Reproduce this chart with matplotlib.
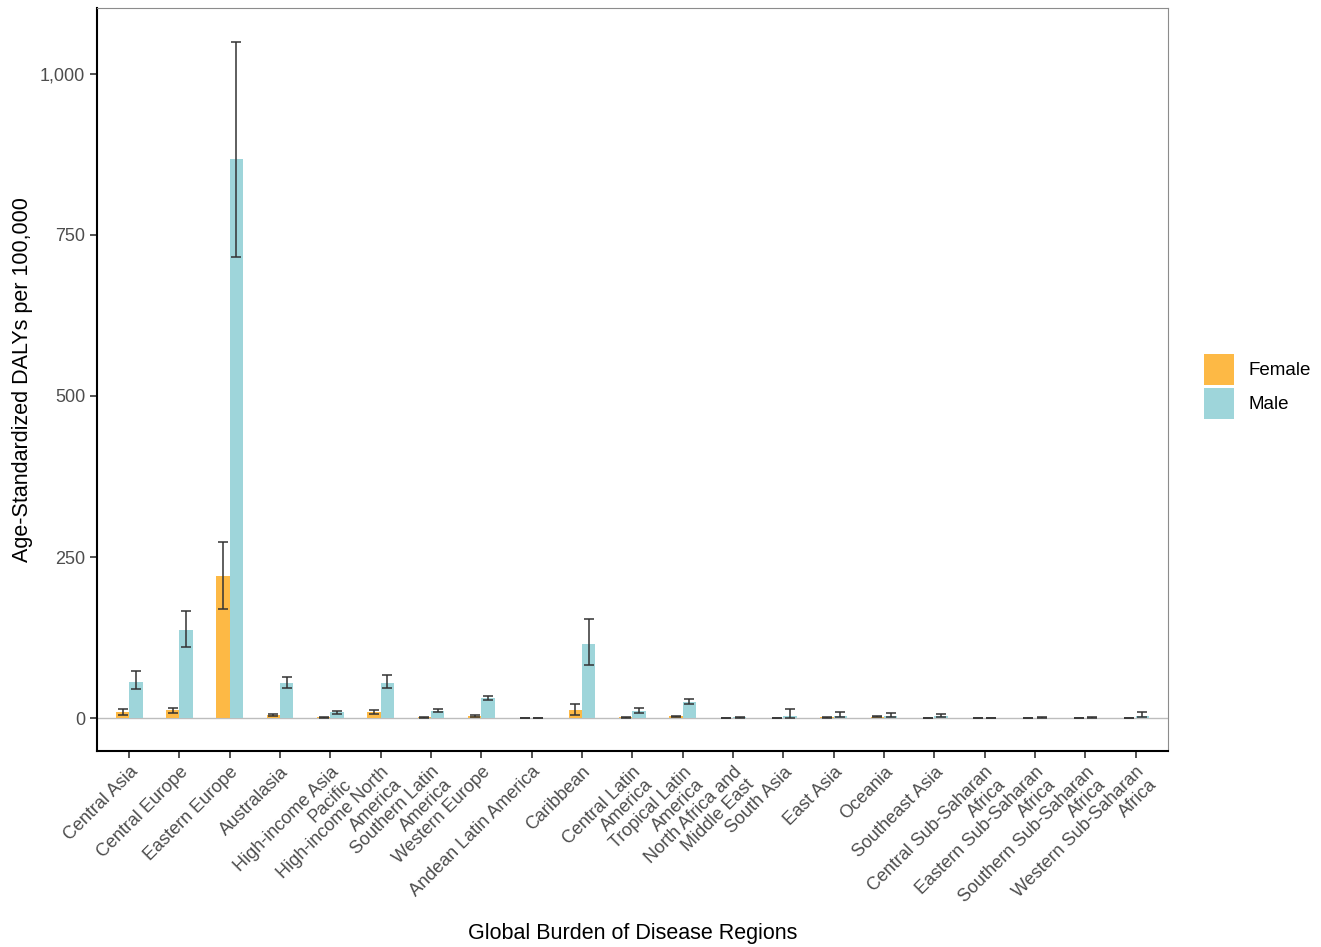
import numpy as np
import matplotlib
matplotlib.use("Agg")
import matplotlib.pyplot as plt
from matplotlib.patches import Patch
from matplotlib.ticker import FuncFormatter

plt.rcParams['font.family'] = ['Liberation Sans', 'DejaVu Sans']

regions = ["Central Asia", "Central Europe", "Eastern Europe", "Australasia",
           "High-income Asia\nPacific", "High-income North\nAmerica",
           "Southern Latin\nAmerica", "Western Europe", "Andean Latin America",
           "Caribbean", "Central Latin\nAmerica", "Tropical Latin\nAmerica",
           "North Africa and\nMiddle East", "South Asia", "East Asia", "Oceania",
           "Southeast Asia", "Central Sub-Saharan\nAfrica",
           "Eastern Sub-Saharan\nAfrica", "Southern Sub-Saharan\nAfrica",
           "Western Sub-Saharan\nAfrica"]

female = [9, 12, 220, 5, 1, 9, 1, 3, 0.5, 12, 1, 3, 0.5, 0.5, 1, 2, 0.5, 0.3, 0.3, 0.3, 0.5]
female_lo = [5, 8, 169, 4, 0.5, 7, 0.5, 2, 0.2, 5, 0.5, 2, 0.2, 0.2, 0.5, 1, 0.2, 0.1, 0.1, 0.1, 0.2]
female_hi = [14, 16, 273, 7, 1.5, 12, 1.5, 5, 0.8, 22, 1.5, 4, 0.8, 0.8, 1.5, 3, 0.8, 0.5, 0.5, 0.5, 0.8]

male = [56, 137, 868, 54, 9, 55, 11, 31, 0.5, 115, 11, 25, 1, 4, 4, 4, 3, 0.5, 0.8, 0.8, 4]
male_lo = [45, 110, 716, 46, 7, 47, 9, 28, 0.2, 82, 8, 22, 0.5, 0.5, 1, 1, 1, 0.2, 0.4, 0.4, 1]
male_hi = [73, 166, 1049, 64, 11, 67, 14, 35, 0.8, 154, 16, 29, 1.5, 14, 10, 8, 6, 0.8, 1.2, 1.2, 10]

c_female = "#FDB945"
c_male = "#9ED5DA"

fig = plt.figure(figsize=(13.21, 9.47), dpi=100)
ax = fig.add_axes([0.0734, 0.207, 0.8107, 0.7846])

x = np.arange(len(regions))
w = 0.265
ax.axhline(0, color="#BDBDBD", lw=1.0, zorder=1)
ax.bar(x - w / 2, female, width=w, color=c_female, zorder=2)
ax.bar(x + w / 2, male, width=w, color=c_male, zorder=2)

# error bars (95% UI)
err_f = [np.array(female) - np.array(female_lo), np.array(female_hi) - np.array(female)]
err_m = [np.array(male) - np.array(male_lo), np.array(male_hi) - np.array(male)]
ax.errorbar(x - w / 2, female, yerr=err_f, fmt="none", ecolor="#333333",
            elinewidth=1.1, capsize=3.5, capthick=1.1, zorder=3)
ax.errorbar(x + w / 2, male, yerr=err_m, fmt="none", ecolor="#333333",
            elinewidth=1.1, capsize=3.5, capthick=1.1, zorder=3)

ax.set_xlim(-0.64, len(regions) - 1 + 0.64)
ax.set_ylim(-51, 1102)
ax.set_yticks([0, 250, 500, 750, 1000])
ax.yaxis.set_major_formatter(FuncFormatter(lambda v, p: f"{int(v):,}"))
ax.set_xticks(x)
ax.set_xticklabels(regions, rotation=45, ha="right", rotation_mode="anchor",
                   multialignment="right", linespacing=1.05)

ax.tick_params(axis="both", colors="#333333", labelcolor="#4D4D4D",
               labelsize=13, length=5, width=1.2)
ax.tick_params(axis="x", pad=4)

for s in ["top", "right"]:
    ax.spines[s].set_color("#8C8C8C")
    ax.spines[s].set_linewidth(0.8)
for s in ["left", "bottom"]:
    ax.spines[s].set_color("black")
    ax.spines[s].set_linewidth(1.5)

ax.set_ylabel("Age-Standardized DALYs per 100,000", fontsize=15.5, labelpad=5)
ax.set_xlabel("Global Burden of Disease Regions", fontsize=15.5)
ax.xaxis.set_label_coords(0.5, -0.232)

handles = [Patch(facecolor=c_female, label="Female"), Patch(facecolor=c_male, label="Male")]
fig.legend(handles=handles, loc="center left", bbox_to_anchor=(0.9045, 0.592),
           frameon=False, fontsize=13.5, handlelength=1.6, handleheight=2.2,
           handletextpad=0.75, labelspacing=0.12, borderpad=0)

fig.savefig("out.png", dpi=100)
